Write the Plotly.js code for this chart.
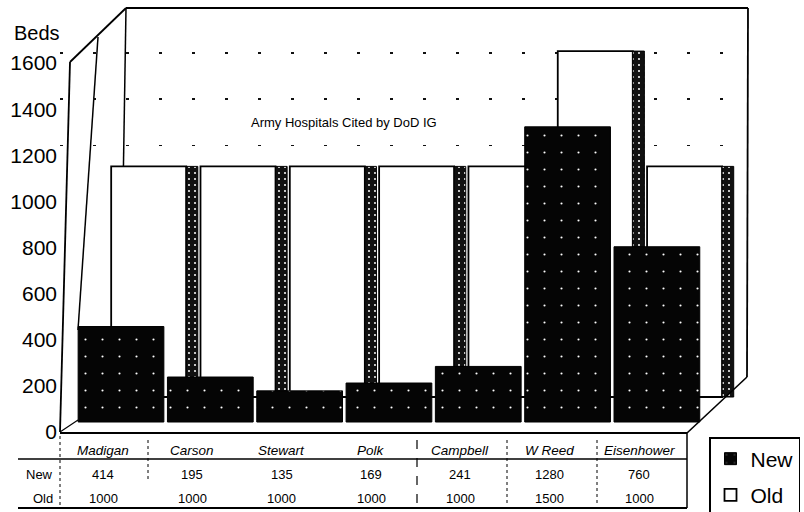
<!DOCTYPE html>
<html>
<head>
<meta charset="utf-8">
<script src="https://cdn.plot.ly/plotly-3.0.1.min.js"></script>
<style>
  html, body { margin: 0; padding: 0; background: #fff; }
  #chart { width: 804px; height: 512px; }
</style>
</head>
<body>
<div id="chart"></div>
<script>
// ---- data ----
const categories = ['Madigan', 'Carson', 'Stewart', 'Polk', 'Campbell', 'W Reed', 'Eisenhower'];
const newBeds = [414, 195, 135, 169, 241, 1280, 760];
const oldBeds = [1000, 1000, 1000, 1000, 1000, 1500, 1000];
const yTicks = [0, 200, 400, 600, 800, 1000, 1200, 1400, 1600];
const gridTicks = [1200, 1400, 1600];
const seriesNames = ['New', 'Old'];
const chartTitle = 'Army Hospitals Cited by DoD IG';
const axisTitle = 'Beds';

// ---- geometry helpers (plot area: x 60..748, y 8..432 px) ----
const L = 60, R = 748, T = 8, B = 432;
const W = 804, H = 512;
const px = x => (x - L) / (R - L);
const py = y => (B - y) / (B - T);
const YMAX = 1838.7;            // value at the top of the plot area
const unitPx = (B - T) / YMAX;  // px per bed
const FONT = 'Liberation Sans, Arial, Helvetica, sans-serif';

// Depth effect: the back (Old) row sits higher than the front (New) row
const newShift = 10 / unitPx;
const oldShift = 35 / unitPx;

const idx = categories.map((c, i) => i);

const traces = [
  // anchor for the labelled axis
  { type: 'scatter', x: [], y: [], xaxis: 'x', yaxis: 'y', showlegend: false, hoverinfo: 'skip' },
  // Old bars (back row) – front face
  {
    type: 'bar', name: seriesNames[1], x: idx, y: oldBeds, xaxis: 'x', yaxis: 'y2',
    offset: -0.11, width: 0.84,
    marker: { color: '#ffffff', line: { color: '#000', width: 1.8 } },
    legendrank: 2, legendgroup: 'old', hoverinfo: 'x+y'
  },
  // Old bars – dark speckled side face
  {
    type: 'bar', name: seriesNames[1], x: idx, y: oldBeds, xaxis: 'x', yaxis: 'y2',
    offset: 0.73, width: 0.13, showlegend: false,
    marker: { color: '#111', line: { color: '#000', width: 1 },
              pattern: { shape: '.', bgcolor: '#111', fgcolor: '#f0f0f0', size: 6, solidity: 0.1 } },
    hoverinfo: 'skip'
  },
  // New bars (front row)
  {
    type: 'bar', name: seriesNames[0], x: idx, y: newBeds, xaxis: 'x', yaxis: 'y3',
    offset: -0.48, width: 0.96,
    marker: { color: '#050505', line: { color: '#000', width: 1 },
              pattern: { shape: '.', bgcolor: '#050505', fgcolor: '#ffffff', size: 17, solidity: 0.012 } },
    legendrank: 1, legendgroup: 'new', hoverinfo: 'x+y'
  }
];

// ---- frame lines (pseudo-3D box) and table rules ----
function line(x0, y0, x1, y1, w, dash, layer) {
  return { type: 'line', xref: 'paper', yref: 'paper',
           x0: px(x0), y0: py(y0), x1: px(x1), y1: py(y1),
           line: { color: '#000', width: w || 1.5, dash: dash || 'solid' },
           layer: layer || 'below' };
}
const shapes = [
  line(126, 8, 748, 8, 2),
  line(748, 8, 747, 377, 1.8),
  line(747, 377, 687, 433, 1.6, 'solid', 'above'),
  line(70, 62, 126, 8, 1.8),
  line(70, 62, 60, 432, 1.8),
  line(98, 37, 78, 330, 1.5),
  line(126, 8, 120, 380, 1.5),
  line(60, 432, 78, 420, 1.2),
  line(60, 433, 687, 433, 1.8, 'solid', 'above'),
  // table
  line(687, 433, 687, 508, 1.5, 'solid', 'above'),
  line(18, 459, 687, 459, 1.5, 'solid', 'above'),
  line(18, 508, 687, 508, 1.8, 'solid', 'above'),
  line(60, 436, 60, 508, 1, 'dot', 'above'),
  line(148, 440, 148, 480, 1, 'dot', 'above'),
  line(417, 440, 417, 506, 1.2, 'dash', 'above'),
  line(507, 440, 507, 506, 1, 'dot', 'above'),
  line(597, 440, 597, 506, 1, 'dot', 'above')
];

// ---- annotations: title, axis title, data table ----
const annotations = [
  { text: chartTitle, xref: 'paper', yref: 'paper', x: px(344), y: py(122),
    xanchor: 'center', yanchor: 'middle', showarrow: false,
    font: { family: FONT, size: 13, color: '#000' } },
  { text: axisTitle, xref: 'paper', yref: 'paper', x: px(12), y: py(33),
    xanchor: 'left', yanchor: 'middle', showarrow: false,
    font: { family: FONT, size: 20, color: '#000' } }
];
categories.forEach((c, i) => {
  annotations.push({ text: '<i>' + c + '</i>', xref: 'x', yref: 'paper', x: i - 0.2, y: py(450),
    xanchor: 'center', yanchor: 'middle', showarrow: false,
    font: { family: FONT, size: 13.5, color: '#000' } });
  annotations.push({ text: String(newBeds[i]), xref: 'x', yref: 'paper', x: i - 0.2, y: py(474),
    xanchor: 'center', yanchor: 'middle', showarrow: false,
    font: { family: FONT, size: 13, color: '#000' } });
  annotations.push({ text: String(oldBeds[i]), xref: 'x', yref: 'paper', x: i - 0.2, y: py(498),
    xanchor: 'center', yanchor: 'middle', showarrow: false,
    font: { family: FONT, size: 13, color: '#000' } });
});
seriesNames.forEach((s, k) => {
  annotations.push({ text: s, xref: 'paper', yref: 'paper', x: px(55), y: py(474 + 24 * k),
    xanchor: 'right', yanchor: 'middle', showarrow: false,
    font: { family: FONT, size: 13, color: '#000' } });
});

const layout = {
  width: W, height: H,
  margin: { l: L, r: W - R, t: T, b: H - B, pad: 0, autoexpand: false },
  paper_bgcolor: '#fff', plot_bgcolor: 'rgba(0,0,0,0)',
  barmode: 'overlay',
  font: { family: FONT, color: '#000' },
  xaxis: { type: 'linear', range: [-0.683, 7.02], showgrid: false, zeroline: false,
           showline: false, showticklabels: false, ticks: '', fixedrange: true },
  yaxis: { range: [0, YMAX], tickvals: yTicks, ticktext: yTicks.map(String),
           showgrid: false, zeroline: false, showline: false, ticks: '',
           tickfont: { family: FONT, size: 21, color: '#000' }, ticklabelstandoff: 2 },
  yaxis2: { overlaying: 'y', range: [-oldShift, YMAX - oldShift], showgrid: false,
            zeroline: false, showline: false, showticklabels: false, ticks: '' },
  yaxis3: { overlaying: 'y', range: [-newShift, YMAX - newShift], tickvals: gridTicks,
            showgrid: true, gridcolor: '#111', gridwidth: 1.5, griddash: '3px,30px',
            zeroline: false, showline: false, showticklabels: false, ticks: '' },
  legend: { x: px(709), y: py(437), xanchor: 'left', yanchor: 'top',
            bgcolor: '#fff', bordercolor: '#000', borderwidth: 1.5,
            font: { family: FONT, size: 21, color: '#000' },
            traceorder: 'grouped', tracegroupgap: 6, itemwidth: 30 },
  shapes: shapes,
  annotations: annotations,
  showlegend: true
};

Plotly.newPlot('chart', traces, layout, { staticPlot: true, displayModeBar: false });
</script>
</body>
</html>
